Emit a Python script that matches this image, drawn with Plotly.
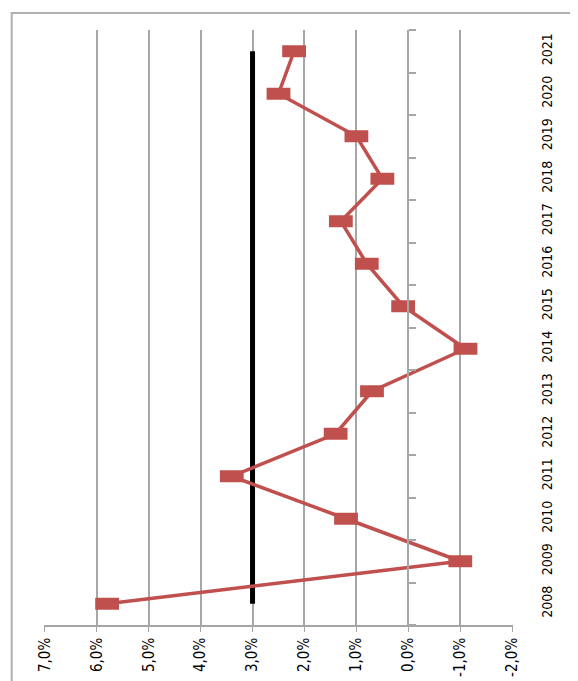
import plotly.graph_objects as go

years = [2008, 2009, 2010, 2011, 2012, 2013, 2014, 2015, 2016, 2017, 2018, 2019, 2020, 2021]
inflation = [5.8, -1.0, 1.2, 3.4, 1.4, 0.7, -1.1, 0.1, 0.8, 1.3, 0.5, 1.0, 2.5, 2.2]
target = [3.0] * len(years)
x_ticks = [7, 6, 5, 4, 3, 2, 1, 0, -1, -2]
x_tick_labels = ["7,0%", "6,0%", "5,0%", "4,0%", "3,0%", "2,0%", "1,0%", "0,0%", "-1,0%", "-2,0%"]
year_labels = [str(y) for y in years]

W, H = 578, 681
OFF = 8  # page body margin
L, T = 44.3 - OFF, 30 - OFF
pw, ph = 469, 599
R, B = W - L - pw, H - T - ph

FONT = "Liberation Sans Narrow, DejaVu Sans Condensed, Arial Narrow, sans-serif"
red = "#C0504D"
grid = "#A6A6A6"

fig = go.Figure()
fig.add_trace(go.Scatter(
    x=target, y=years, mode="lines",
    line=dict(color="#000000", width=5), hoverinfo="skip", showlegend=False))
fig.add_trace(go.Scatter(
    x=inflation, y=years, mode="lines+markers",
    line=dict(color=red, width=3.5),
    marker=dict(symbol="line-ew", size=17, color=red, line=dict(color=red, width=12)),
    showlegend=False))
# invisible trace for the category axis at 0 %
fig.add_trace(go.Scatter(x=[0], y=[years[0]], yaxis="y2", mode="markers",
                         marker=dict(opacity=0), hoverinfo="skip", showlegend=False))

xmax, xmin = max(x_ticks), min(x_ticks)
pad = 0.015
fig.update_layout(
    width=W, height=H,
    margin=dict(l=L, r=R, t=T, b=B, pad=0),
    paper_bgcolor="white", plot_bgcolor="white",
    font=dict(family=FONT, size=14, color="#000000"),
    xaxis=dict(
        range=[xmax + pad, xmin - pad], tickvals=x_ticks, ticktext=x_tick_labels,
        tickangle=-90, showgrid=True, gridcolor=grid, gridwidth=2,
        zeroline=False, showline=True, linecolor=grid, linewidth=1.5,
        ticks="outside", ticklen=5, tickcolor=grid, tickfont=dict(size=15),
        mirror=False,
    ),
    yaxis=dict(
        range=[years[0] - 0.5, years[-1] + 0.5], side="right",
        tickvals=years, ticktext=year_labels, tickangle=-90,
        showgrid=False, zeroline=False, showline=False, ticks="",
        ticklabelstandoff=24, tickfont=dict(size=14),
    ),
    yaxis2=dict(
        overlaying="y", anchor="free", side="right",
        position=(xmax + pad - 0) / (xmax - xmin + 2 * pad),
        range=[years[0] - 0.5, years[-1] + 0.5],
        tickvals=[y - 0.5 for y in years] + [years[-1] + 0.5],
        showticklabels=False, ticks="outside", ticklen=7, tickcolor=grid,
        tickwidth=1.5, showline=True, linecolor=grid, linewidth=2,
        showgrid=False, zeroline=False,
    ),
)

# outer chart border (left and top edges visible)
bx = (12 - OFF - L) / pw
by = (H - (13 - OFF) - B) / ph
fig.add_shape(type="path", xref="paper", yref="paper",
              path=f"M {bx},{-B/ph - 0.05} L {bx},{by} L {1 + R/pw + 0.05},{by}",
              line=dict(color="#B0B0B0", width=2))

fig.write_html("out.html")
